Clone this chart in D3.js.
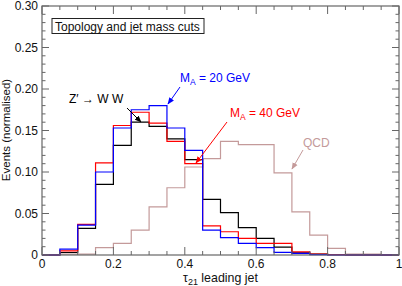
<!DOCTYPE html>
<html>
<head>
<meta charset="utf-8">
<script src="https://cdn.jsdelivr.net/npm/d3@7"></script>
<style>
  body { margin: 0; background: #fff; }
  text { font-family: "Liberation Sans", Arial, sans-serif; }
</style>
</head>
<body>
<script>
// bin edges 0 .. 1, width 0.05
const binEdges = d3.range(0, 21).map(i => i * 0.05);

const zww = [0, 0.003, 0.032, 0.085, 0.132, 0.160, 0.155, 0.140, 0.115, 0.067,
  0.051, 0.033, 0.020, 0.0095, 0.0025, 0.001, 0.0005, 0, 0, 0];
const ma40 = [0, 0.005, 0.037, 0.111, 0.156, 0.172, 0.159, 0.137, 0.110, 0.035,
  0.028, 0.020, 0.014, 0.014, 0.0037, 0.001, 0.0005, 0, 0, 0];
const ma20 = [0, 0.007, 0.036, 0.100, 0.153, 0.175, 0.180, 0.153, 0.126, 0.030,
  0.021, 0.014, 0.009, 0.0032, 0.002, 0.0005, 0, 0, 0, 0];
const qcd = [0, 0.001, 0.001, 0.009, 0.014, 0.030, 0.058, 0.081, 0.106, 0.116,
  0.137, 0.133, 0.133, 0.099, 0.052, 0.024, 0.008, 0.0012, 0.001, 0];

const xTicks = [0, 0.2, 0.4, 0.6, 0.8, 1];
const xTickLabels = ["0", "0.2", "0.4", "0.6", "0.8", "1"];
const yTicks = [0, 0.05, 0.10, 0.15, 0.20, 0.25, 0.30];
const yTickLabels = ["0", "0.05", "0.10", "0.15", "0.20", "0.25", "0.30"];

const width = 402, height = 286;
const x = d3.scaleLinear().domain([0, 1]).range([42, 399]);
const y = d3.scaleLinear().domain([0, 0.3]).range([255, 6]);

const svg = d3.select("body").append("svg")
  .attr("width", width)
  .attr("height", height);

const defs = svg.append("defs");
function arrowHead(id, color) {
  defs.append("marker")
    .attr("id", id)
    .attr("viewBox", "0 -5 10 10")
    .attr("refX", 9)
    .attr("refY", 0)
    .attr("markerWidth", 7)
    .attr("markerHeight", 7)
    .attr("markerUnits", "userSpaceOnUse")
    .attr("orient", "auto")
    .append("path")
    .attr("fill", color)
    .attr("d", "M0,-4L10,0L0,4Z");
}
arrowHead("arr-black", "#000");
arrowHead("arr-blue", "#00f");
arrowHead("arr-red", "#f00");
arrowHead("arr-qcd", "#c49a9a");

// histograms
const step = d3.line()
  .x(d => x(d[0]))
  .y(d => y(d[1]))
  .curve(d3.curveStepAfter);

function histPts(vals) {
  const pts = vals.map((v, i) => [binEdges[i], v]);
  pts.push([binEdges[20], vals[19]]);
  return pts;
}

const series = [
  { vals: qcd, color: "#c49a9a" },
  { vals: zww, color: "#000" },
  { vals: ma40, color: "#f00" },
  { vals: ma20, color: "#00f" }
];

svg.append("g")
  .attr("fill", "none")
  .selectAll("path")
  .data(series)
  .join("path")
  .attr("stroke", d => d.color)
  .attr("stroke-width", 1.2)
  .attr("d", d => step(histPts(d.vals)));

// frame
const axisColor = "#666";
svg.append("rect")
  .attr("x", x(0)).attr("y", y(0.3))
  .attr("width", x(1) - x(0)).attr("height", y(0) - y(0.3))
  .attr("fill", "none")
  .attr("stroke", axisColor)
  .attr("stroke-width", 1.2);

const ticks = svg.append("g").attr("stroke", axisColor).attr("stroke-width", 1);

const xMinor = d3.range(0, 21).map(i => i * 0.05);
xMinor.forEach(v => {
  const major = xTicks.some(t => Math.abs(t - v) < 1e-6);
  const len = major ? 8 : 4;
  ticks.append("line")
    .attr("x1", x(v)).attr("x2", x(v))
    .attr("y1", y(0)).attr("y2", y(0) - len);
  ticks.append("line")
    .attr("x1", x(v)).attr("x2", x(v))
    .attr("y1", y(0.3)).attr("y2", y(0.3) + len);
});

const yMinor = d3.range(0, 31).map(i => i * 0.01);
yMinor.forEach(v => {
  const major = yTicks.some(t => Math.abs(t - v) < 1e-6);
  const len = major ? 7 : 3.5;
  ticks.append("line")
    .attr("x1", x(0)).attr("x2", x(0) + len)
    .attr("y1", y(v)).attr("y2", y(v));
  ticks.append("line")
    .attr("x1", x(1)).attr("x2", x(1) - len)
    .attr("y1", y(v)).attr("y2", y(v));
});

// tick labels
svg.append("g")
  .selectAll("text")
  .data(xTicks)
  .join("text")
  .attr("x", d => x(d))
  .attr("y", 268)
  .attr("text-anchor", "middle")
  .attr("font-size", 12)
  .attr("fill", "#111")
  .text((d, i) => xTickLabels[i]);

svg.append("g")
  .selectAll("text")
  .data(yTicks)
  .join("text")
  .attr("x", 38)
  .attr("y", d => y(d) + 4)
  .attr("text-anchor", "end")
  .attr("font-size", 12)
  .attr("fill", "#111")
  .text((d, i) => yTickLabels[i]);

// axis titles
const xt = svg.append("text")
  .attr("x", 183)
  .attr("y", 282)
  .attr("font-size", 12.4)
  .attr("fill", "#111");
xt.append("tspan").text("τ");
xt.append("tspan").attr("dy", 3).attr("font-size", 9).text("21");
xt.append("tspan").attr("dy", -3).text(" leading jet");

svg.append("text")
  .attr("transform", "translate(10,130) rotate(-90)")
  .attr("text-anchor", "middle")
  .attr("font-size", 11.5)
  .attr("fill", "#111")
  .text("Events (normalised)");

// legend box
svg.append("rect")
  .attr("x", 52).attr("y", 18.5)
  .attr("width", 152).attr("height", 15)
  .attr("fill", "#fff")
  .attr("stroke", "#222")
  .attr("stroke-width", 1);
svg.append("text")
  .attr("x", 55).attr("y", 30.5)
  .attr("font-size", 12)
  .attr("fill", "#111")
  .text("Topology and jet mass cuts");

// annotations
function label(xp, yp, color, parts) {
  const t = svg.append("text")
    .attr("x", xp).attr("y", yp)
    .attr("font-size", 12)
    .attr("fill", color);
  parts.forEach(p => {
    t.append("tspan")
      .attr("dy", p.dy || 0)
      .attr("font-size", p.size || 12)
      .text(p.text);
  });
}
function arrow(x1, y1, x2, y2, color, id) {
  svg.append("line")
    .attr("x1", x1).attr("y1", y1)
    .attr("x2", x2).attr("y2", y2)
    .attr("stroke", color)
    .attr("stroke-width", 1)
    .attr("marker-end", `url(#${id})`);
}

label(69, 103, "#000", [{ text: "Z′ → W W" }]);
arrow(127, 108, 141, 122, "#000", "arr-black");

label(180, 82, "#00f", [{ text: "M" }, { text: "A", dy: 3, size: 8.5 }, { text: " = 20 GeV", dy: -3 }]);
arrow(180, 87, 168, 104, "#00f", "arr-blue");

label(230, 117, "#f00", [{ text: "M" }, { text: "A", dy: 3, size: 8.5 }, { text: " = 40 GeV", dy: -3 }]);
arrow(227, 122, 196, 163, "#f00", "arr-red");

label(303, 147, "#c49a9a", [{ text: "QCD" }]);
arrow(303, 150, 292, 169, "#c49a9a", "arr-qcd");
</script>
</body>
</html>
